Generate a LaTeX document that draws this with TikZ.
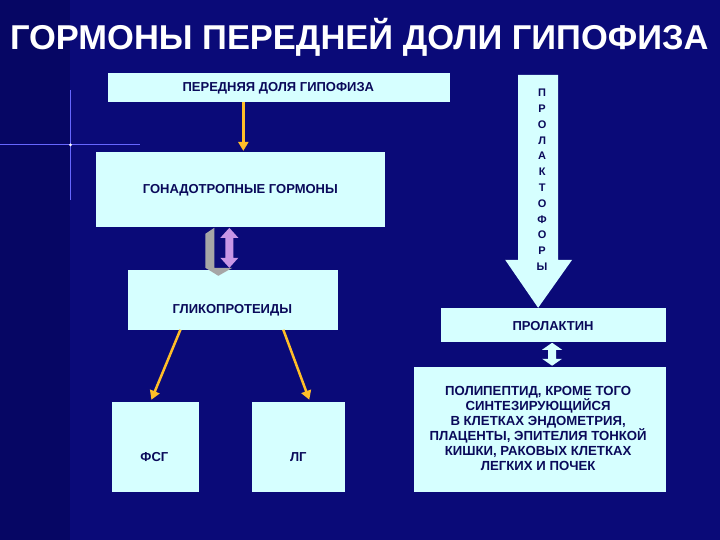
\documentclass[tikz,border=0pt]{standalone}
\usepackage{fontspec}
\setmainfont{Liberation Sans}
\usetikzlibrary{arrows.meta,shapes.arrows}
\definecolor{bg}{RGB}{10,10,120}
\definecolor{bgl}{RGB}{6,6,100}
\definecolor{boxc}{RGB}{214,255,255}
\definecolor{txt}{RGB}{10,10,90}
\definecolor{yel}{RGB}{255,190,40}
\definecolor{purp}{RGB}{200,150,230}
\tikzset{box/.style={fill=boxc,draw=none,font=\bfseries\fontsize{13}{15}\selectfont,text=txt,align=center},
 ptxt/.style={font=\bfseries\fontsize{13.2}{15}\selectfont,text=txt,align=center},
 yarr/.style={draw=yel,line width=2.5pt,-{Triangle[length=9pt,width=10pt]}}}
\begin{document}
\begin{tikzpicture}[x=1pt,y=-1pt]
\fill[bg] (0,0) rectangle (720,540);
\fill[bgl] (0,0) rectangle (70,540);
\draw[blue!60!white,line width=1pt] (0,145)--(140,145);
\draw[blue!60!white,line width=0.8pt] (70,90)--(70,200);
\fill[white] (70,145) circle (1.5);
\node[text=white,font=\bfseries\fontsize{34.5}{38}\selectfont] (title) at (359,37) {ГОРМОНЫ ПЕРЕДНЕЙ ДОЛИ ГИПОФИЗА};
\node[box,minimum width=343,minimum height=29,anchor=north west] (top) at (107,73) {};
\node[box] at (278,88) {ПЕРЕДНЯЯ ДОЛЯ ГИПОФИЗА};
\node[box,minimum width=290,minimum height=75,anchor=north west] (gon) at (95,152) {};
\node[box] at (240,190) {ГОНАДОТРОПНЫЕ ГОРМОНЫ};
\node[box,minimum width=211,minimum height=60,anchor=north west] (gly) at (127,270) {};
\node[box] at (232,310) {ГЛИКОПРОТЕИДЫ};
\node[box,minimum width=87,minimum height=90,anchor=north west] (fsg) at (111,402) {};
\node[box] at (154,457) {ФСГ};
\node[box,minimum width=94,minimum height=90,anchor=north west] (lg) at (251,402) {};
\node[box] at (298,457) {ЛГ};
\node[box,minimum width=225,minimum height=34,anchor=north west] (prl) at (441,308) {};
\node[box] at (553,326) {ПРОЛАКТИН};
\node[box,minimum width=252,minimum height=125,anchor=north west] (poly) at (414,367) {};
\node[ptxt] (polyt) at (538,429) {ПОЛИПЕПТИД, КРОМЕ ТОГО\\СИНТЕЗИРУЮЩИЙСЯ\\В КЛЕТКАХ ЭНДОМЕТРИЯ,\\ПЛАЦЕНТЫ, ЭПИТЕЛИЯ ТОНКОЙ\\КИШКИ, РАКОВЫХ КЛЕТКАХ\\ЛЕГКИХ И ПОЧЕК};
% big arrow
\fill[boxc] (518,75)--(558,75)--(558,260)--(572,260)--(538,308)--(505,260)--(518,260)--cycle;
\node[font=\bfseries\fontsize{11}{15.8}\selectfont,text=txt,align=center,inner sep=0] (prt) at (542,180) {П\\Р\\О\\Л\\А\\К\\Т\\О\\Ф\\О\\Р\\Ы};
% yellow arrows
\draw[yarr] (243,102)--(243,151);
\coordinate (g1) at (180,330); \coordinate (g2) at (283,330);
\draw[yarr] (g1)--(151,400);
\draw[yarr] (g2)--(309,400);
% double arrows
\fill[gray!70] (205,234)--(214,228)--(214,268)--(232,268)--(218,276)--(205,268)--cycle;
\fill[purp] (220,238)--(229,228)--(238,238)--(233,238)--(233,258)--(238,258)--(229,268)--(220,258)--(225,258)--(225,238)--cycle;
\fill[boxc] (542,350)--(552,343)--(562,350)--(556,350)--(556,359)--(562,359)--(552,366)--(542,359)--(548,359)--(548,350)--cycle;
\end{tikzpicture}
\end{document}
